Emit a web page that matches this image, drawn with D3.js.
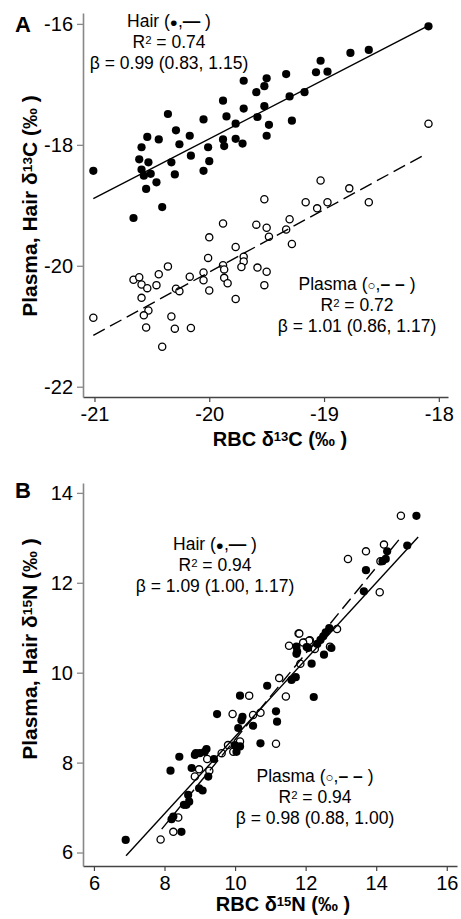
<!DOCTYPE html>
<html>
<head>
<meta charset="utf-8">
<script src="https://cdn.jsdelivr.net/npm/d3@7"></script>
<style>
  html, body { margin: 0; padding: 0; background: #fff; }
  svg text { font-family: "Liberation Sans", Arial, Helvetica, sans-serif; fill: #000; }
</style>
</head>
<body>
<div id="chart"></div>
<script>
/* panel A : carbon (RBC d13C vs plasma / hair d13C) */
const hairC = [
  [-21.01,-18.43],[-19.88,-17.27],[-19.85,-17.53],[-20.36,-17.49],[-20.05,-17.58],[-20.29,-17.76],
  [-20.17,-17.85],[-20.54,-17.87],[-20.44,-17.91],[-20.59,-18.04],[-20.26,-17.99],[-19.88,-17.91],
  [-19.87,-18.02],[-20.01,-18.04],[-20.16,-18.18],[-20.61,-18.24],[-20.53,-18.29],[-20.33,-18.29],
  [-20.00,-18.27],[-20.05,-18.43],[-20.59,-18.41],[-20.57,-18.51],[-20.51,-18.48],[-20.30,-18.49],
  [-20.46,-18.62],[-20.55,-18.73],[-20.41,-19.03],[-20.66,-19.21],
  [-18.09,-16.04],[-18.61,-16.43],[-18.77,-16.48],[-19.03,-16.61],[-19.07,-16.80],[-18.97,-16.79],
  [-19.33,-16.83],[-19.50,-16.90],[-19.70,-16.94],[-19.52,-17.03],[-19.59,-17.13],[-19.17,-17.13],
  [-19.30,-17.20],[-19.70,-17.40],[-19.52,-17.36],[-19.58,-17.54],[-19.77,-17.65],[-19.28,-17.60],
  [-19.48,-17.67],[-19.50,-17.85],[-19.77,-17.90],[-19.71,-17.98]
];
const plasmaC = [
  [-21.01,-20.86],[-20.66,-20.23],[-20.61,-20.19],[-20.59,-20.31],[-20.54,-20.37],[-20.59,-20.53],
  [-20.53,-20.74],[-20.57,-20.82],[-20.55,-21.02],[-20.46,-20.32],[-20.44,-20.14],[-20.36,-20.01],
  [-20.29,-20.38],[-20.26,-20.42],[-20.33,-20.84],[-20.30,-21.04],[-20.41,-21.34],[-20.16,-21.03],
  [-20.17,-20.18],[-20.05,-20.11],[-20.05,-20.24],[-20.00,-20.41],[-20.01,-19.87],[-20.00,-19.53],
  [-19.88,-19.30],[-19.88,-19.99],[-19.87,-20.06],[-19.87,-20.20],[-19.84,-20.29],
  [-19.52,-18.90],[-19.16,-18.95],[-18.97,-18.95],[-18.61,-18.95],[-19.59,-19.32],[-19.50,-19.37],
  [-19.30,-19.23],[-19.33,-19.40],[-19.48,-19.52],[-19.28,-19.64],[-19.06,-19.05],[-19.77,-19.69],
  [-19.70,-19.85],[-19.70,-19.93],[-19.72,-20.02],[-19.58,-20.03],[-19.50,-20.10],[-19.52,-20.32],
  [-19.77,-20.55],[-18.09,-17.65],[-19.03,-18.59],[-18.78,-18.72]
];
const hairLineC = [[-21.01,-18.89],[-18.09,-16.03]];
const plasmaLineC = [[-21.01,-21.15],[-18.12,-18.16]];
const ticksAx = [-21,-20,-19,-18];
const ticksAy = [-22,-20,-18,-16];

/* panel B : nitrogen */
const hairN = [
  [6.90,6.28],[8.17,7.82],[8.42,8.13],[8.89,8.21],[9.00,8.21],[9.19,8.30],[8.77,7.88],[9.24,7.69],
  [8.98,7.43],[9.08,7.38],[8.67,7.28],[8.70,7.13],[8.55,7.06],[8.62,7.06],[8.25,6.80],[8.20,6.74],
  [8.48,6.46],[9.40,8.08],[9.99,8.39],
  [9.49,9.08],[10.14,9.49],[10.91,9.71],[12.23,9.46],[10.21,9.02],[10.18,8.94],[10.09,8.77],
  [10.51,8.82],[11.16,9.14],[11.19,8.91],[10.72,8.43],[10.14,8.36],[10.04,8.24],[8.86,8.17],
  [9.14,8.24],[11.60,9.84],[11.72,9.90],[11.76,10.47],[12.07,10.55],[12.17,10.20],
  [15.14,13.49],[14.88,12.83],[14.31,12.70],[14.27,12.53],[14.18,12.48],[13.71,12.28],[13.65,11.81],
  [12.67,10.99],[12.57,10.90],[12.50,10.81],[12.42,10.73],[12.33,10.64],[12.03,10.57],[11.74,10.58],
  [12.52,10.40],[12.73,10.55],[11.74,10.42]
];
const plasmaN = [
  [7.89,6.29],[8.25,6.46],[8.39,6.78],[8.98,7.85],[8.86,7.69],[9.21,8.08],[9.27,7.82],[9.62,8.21],
  [9.80,8.39],[9.95,8.24],
  [10.40,9.49],[9.93,9.08],[10.51,9.06],[10.72,9.11],[11.25,9.88],[11.44,9.47],[11.16,8.42],
  [10.14,8.47],[11.53,10.60],[11.80,10.87],[11.98,10.67],[12.12,10.72],[11.85,10.20],[12.26,10.53],
  [14.70,13.49],[13.20,12.53],[13.71,12.70],[14.22,12.85],[14.10,11.79],[12.89,10.97],[11.82,10.87],
  [12.10,10.71],[11.93,10.67],[14.12,12.48],[12.69,10.58]
];
const hairLineN = [[6.91,5.93],[15.19,13.02]];
const plasmaLineN = [[7.92,6.52],[14.72,13.03]];
const ticksBx = [6,8,10,12,14,16];
const ticksBy = [6,8,10,12,14];

const W = 461, H = 919;
const svg = d3.select('#chart').append('svg').attr('width', W).attr('height', H);

// plain hyphen-minus like the original figure
const fmt = d => String(d);

// parts = [[text, style?], ...]
const richText = (sel, parts) => {
  parts.forEach(p => {
    let t = sel.append('tspan').text(p[0]);
    if (p[1] === 'sup') t.attr('font-size', '65%').attr('baseline-shift', '38%');
    if (p[1] === 'bold') t.attr('font-weight', 'bold');
    if (p[1] === 'small') t.attr('font-size', '76%');
  });
};

const drawPanel = (cfg) => {
  const x = d3.scaleLinear().domain(cfg.xDomain).range(cfg.xRange);
  const y = d3.scaleLinear().domain(cfg.yDomain).range(cfg.yRange);
  const g = svg.append('g');

  // axes
  const ax = g.append('g').attr('transform', 'translate(0,' + cfg.yRange[0] + ')')
    .call(d3.axisBottom(x).tickValues(cfg.xTicks).tickFormat(fmt).tickSize(5).tickPadding(5).tickSizeOuter(0));
  const ay = g.append('g').attr('transform', 'translate(' + cfg.xRange[0] + ',0)')
    .call(d3.axisLeft(y).tickValues(cfg.yTicks).tickFormat(fmt).tickSize(6).tickPadding(4).tickSizeOuter(0));
  ax.selectAll('path').attr('stroke', '#444').attr('stroke-width', 1.3);
  ax.selectAll('line').attr('stroke', '#444').attr('stroke-width', 1.2);
  ay.selectAll('path').attr('stroke', '#888').attr('stroke-width', 1.6);
  ay.selectAll('line').attr('stroke', '#888').attr('stroke-width', 1.3);
  [ax, ay].forEach(a => a.selectAll('text')
    .attr('font-size', 20).attr('font-family', '"Liberation Sans", Arial, sans-serif').attr('fill', '#000'));

  // points
  g.append('g').selectAll('circle').data(cfg.plasma).join('circle')
    .attr('cx', d => x(d[0])).attr('cy', d => y(d[1])).attr('r', 3.6)
    .attr('fill', '#fff').attr('stroke', '#000').attr('stroke-width', 1.3);
  g.append('g').selectAll('circle').data(cfg.hair).join('circle')
    .attr('cx', d => x(d[0])).attr('cy', d => y(d[1])).attr('r', 4.1)
    .attr('fill', '#000');

  // regression lines
  const line = d3.line().x(d => x(d[0])).y(d => y(d[1]));
  g.append('path').datum(cfg.hairLine).attr('d', line)
    .attr('fill', 'none').attr('stroke', '#000').attr('stroke-width', 1.4);
  g.append('path').datum(cfg.plasmaLine).attr('d', line)
    .attr('fill', 'none').attr('stroke', '#000').attr('stroke-width', 1.4)
    .attr('stroke-dasharray', '13,6');

  // panel letter
  g.append('text').attr('x', 15).attr('y', cfg.letterY).attr('font-size', 22)
    .attr('font-weight', 'bold').text(cfg.letter);

  // axis titles
  const xt = g.append('text').attr('x', cfg.xTitle[0]).attr('y', cfg.xTitle[1])
    .attr('text-anchor', 'middle').attr('font-size', 20).attr('font-weight', 'bold');
  richText(xt, [['RBC δ'], [cfg.iso, 'sup'], [cfg.el + ' (‰ )']]);
  const yt = g.append('text').attr('transform', 'translate(' + cfg.yTitle[0] + ',' + cfg.yTitle[1] + ') rotate(-90)')
    .attr('text-anchor', 'middle').attr('font-size', 21).attr('font-weight', 'bold');
  richText(yt, [['Plasma, Hair δ'], [cfg.iso, 'sup'], [cfg.el + ' (‰ )']]);

  // annotations
  const note = (cx, cy, lines) => {
    lines.forEach((parts, i) => {
      const t = g.append('text').attr('x', cx).attr('y', cy + i * 21)
        .attr('text-anchor', 'middle').attr('font-size', 17.5);
      richText(t, parts);
    });
  };
  note(cfg.hairNote[0], cfg.hairNote[1], [
    [['Hair ('], ['●', 'small'], [','], ['—', 'bold'], [' )']],
    [['R'], ['2', 'sup'], [' = ' + cfg.hairR2]],
    [['β = ' + cfg.hairBeta]]
  ]);
  note(cfg.plasmaNote[0], cfg.plasmaNote[1], [
    [['Plasma ('], ['○', 'small'], [','], ['– –', 'bold'], [' )']],
    [['R'], ['2', 'sup'], [' = ' + cfg.plasmaR2]],
    [['β = ' + cfg.plasmaBeta]]
  ]);
};

drawPanel({
  letter: 'A', letterY: 32, iso: '13', el: 'C',
  xDomain: [-21.1, -17.92], xRange: [83, 448],
  yDomain: [-22.17, -15.82], yRange: [397, 13],
  xTicks: ticksAx, yTicks: ticksAy,
  hair: hairC, plasma: plasmaC, hairLine: hairLineC, plasmaLine: plasmaLineC,
  xTitle: [280, 446], yTitle: [37, 206],
  hairNote: [169, 27], hairR2: '0.74', hairBeta: '0.99 (0.83, 1.15)',
  plasmaNote: [357, 290], plasmaR2: '0.72', plasmaBeta: '1.01 (0.86, 1.17)'
});

drawPanel({
  letter: 'B', letterY: 498, iso: '15', el: 'N',
  xDomain: [5.69, 16.29], xRange: [83, 457],
  yDomain: [5.7, 14.22], yRange: [866, 483],
  xTicks: ticksBx, yTicks: ticksBy,
  hair: hairN, plasma: plasmaN, hairLine: hairLineN, plasmaLine: plasmaLineN,
  xTitle: [283, 911], yTitle: [37, 649],
  hairNote: [215, 550], hairR2: '0.94', hairBeta: '1.09 (1.00, 1.17)',
  plasmaNote: [315, 782], plasmaR2: '0.94', plasmaBeta: '0.98 (0.88, 1.00)'
});
</script>
</body>
</html>
